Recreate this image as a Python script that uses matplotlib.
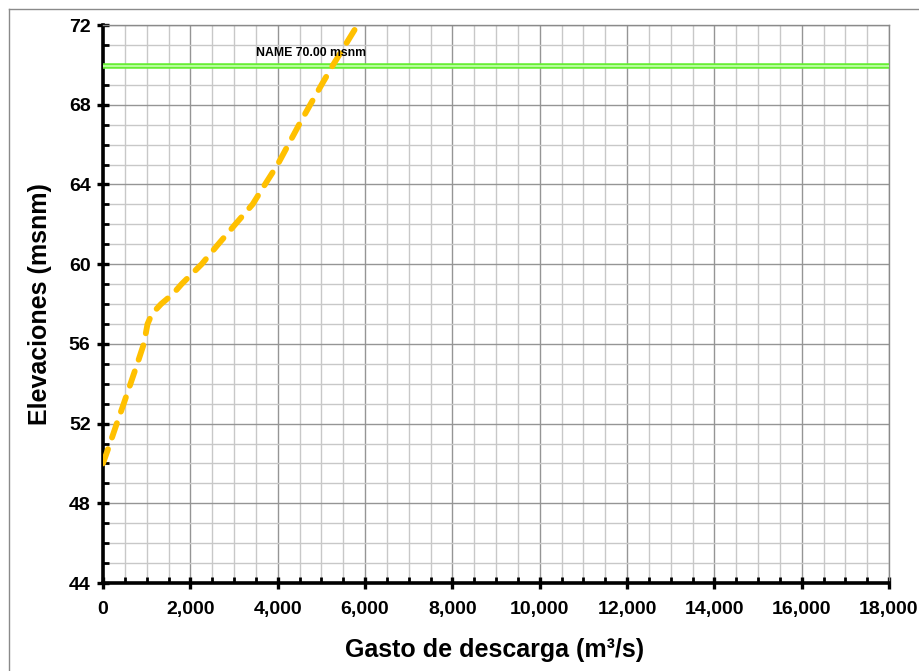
import matplotlib
matplotlib.use("Agg")
import matplotlib.pyplot as plt
from matplotlib.lines import Line2D
from matplotlib.ticker import MultipleLocator, FuncFormatter

# Data
gasto = [0, 160, 315, 475, 630, 785, 935, 1020, 1120, 1330, 1600, 1800, 2260, 2640,
         3030, 3425, 3710, 4000, 4245, 4490, 4745, 5005, 5270, 5550, 5830]
elevacion = [50, 51, 52, 53, 54, 55, 56, 57, 57.5, 58, 58.5, 59, 60, 61,
             62, 63, 64, 65, 66, 67, 68, 69, 70, 71, 72]
name_level = 70.0
name_label = "NAME 70.00 msnm"
x_label = "Gasto de descarga (m³/s)"
y_label = "Elevaciones (msnm)"

plt.rcParams['font.family'] = ['Liberation Sans', 'DejaVu Sans']

fig = plt.figure(figsize=(9.19, 6.71), dpi=100)
ax = fig.add_axes([103/919, 1-583/671, (889-103)/919, (583-25)/671])

ax.set_xlim(0, 18000)
ax.set_ylim(44, 72)

ax.xaxis.set_major_locator(MultipleLocator(2000))
ax.xaxis.set_minor_locator(MultipleLocator(500))
ax.yaxis.set_major_locator(MultipleLocator(4))
ax.yaxis.set_minor_locator(MultipleLocator(1))
ax.xaxis.set_major_formatter(FuncFormatter(lambda v, p: f"{int(v):,}"))

ax.grid(which='minor', color='#c8c8c8', linewidth=1.0)
ax.grid(which='major', color='#959595', linewidth=1.0)
ax.set_axisbelow(True)

for s in ['left', 'bottom']:
    ax.spines[s].set_linewidth(2.6)
    ax.spines[s].set_color('black')
for s in ['top', 'right']:
    ax.spines[s].set_linewidth(1.0)
    ax.spines[s].set_color('#8a8a8a')

ax.tick_params(which='major', direction='inout', length=8, width=2.4, color='black',
               labelsize=14, pad=5)
ax.tick_params(which='minor', direction='in', length=4, width=2.0, color='black')
for lbl in ax.get_xticklabels() + ax.get_yticklabels():
    lbl.set_fontweight('bold')
ax.tick_params(axis='x', which='major', pad=9)

# NAME line (double green line with light interior)
ax.axhline(name_level - 0.08, color='#66ee33', linewidth=4.0, zorder=3)
ax.axhline(name_level - 0.08, color='#c8ffb0', linewidth=1.2, zorder=3)
ax.text(3500, name_level + 0.3, name_label, fontsize=8.8, fontweight='bold',
        ha='left', va='bottom', zorder=5)

# Curve
ax.plot(gasto, elevacion, color='#FFC000', linewidth=4.2,
        linestyle=(0, (2.6, 2.1)), dash_capstyle='round', zorder=4, clip_on=True)

ax.set_xlabel(x_label, fontsize=18, fontweight='bold')
ax.set_ylabel(y_label, fontsize=18, fontweight='bold')
ax.xaxis.set_label_coords((495-103)/786, (583-650)/558)
ax.yaxis.set_label_coords((40-103)/786, (583-304)/558)
ax.xaxis.label.set_va('center')
ax.yaxis.label.set_va('center')

# outer chart border (left and top)
fig.add_artist(Line2D([9/919, 9/919], [0, 1-9/671], color='#8a8a8a', linewidth=1.0))
fig.add_artist(Line2D([9/919, 1], [1-9/671, 1-9/671], color='#8a8a8a', linewidth=1.0))

fig.savefig("out.png", dpi=100)
